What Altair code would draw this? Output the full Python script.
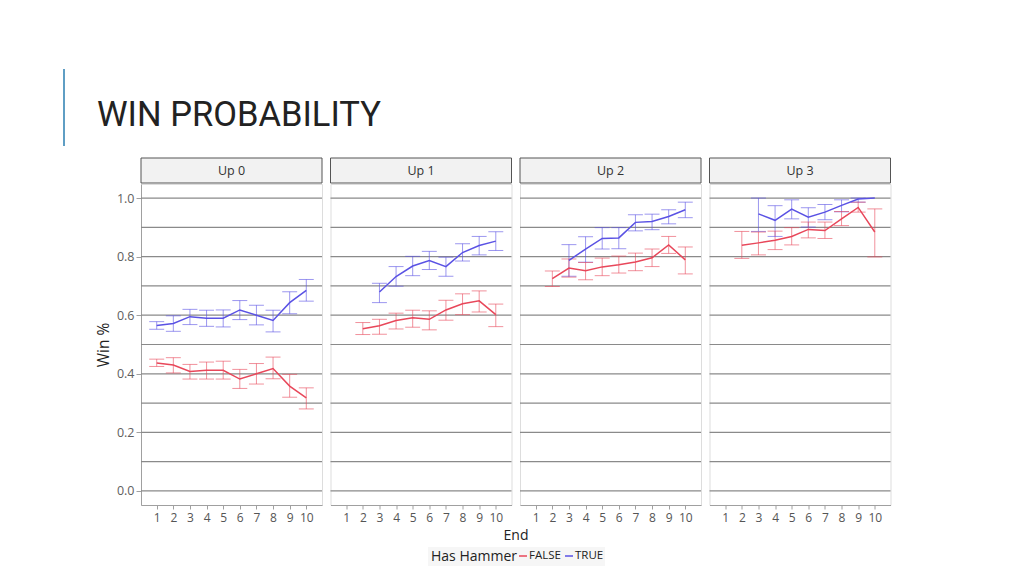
import altair as alt
import pandas as pd

# ---------------- data ----------------
title_text = "WIN PROBABILITY"
panels = ["Up 0", "Up 1", "Up 2", "Up 3"]
hammer = ["FALSE", "TRUE"]
ends = [1, 2, 3, 4, 5, 6, 7, 8, 9, 10]
y_ticks = [0.0, 0.2, 0.4, 0.6, 0.8, 1.0]
grid_vals = [0.0, 0.1, 0.2, 0.3, 0.4, 0.5, 0.6, 0.7, 0.8, 0.9, 1.0]
N = None

up0_true_mean = [0.565, 0.572, 0.595, 0.590, 0.590, 0.618, 0.600, 0.582, 0.643, 0.685]
up0_true_lo   = [0.552, 0.545, 0.568, 0.562, 0.560, 0.585, 0.567, 0.543, 0.605, 0.648]
up0_true_hi   = [0.578, 0.598, 0.620, 0.617, 0.618, 0.650, 0.634, 0.617, 0.680, 0.722]
up0_false_mean = [0.437, 0.430, 0.408, 0.412, 0.412, 0.382, 0.400, 0.418, 0.358, 0.318]
up0_false_lo   = [0.425, 0.403, 0.382, 0.382, 0.382, 0.350, 0.365, 0.383, 0.320, 0.280]
up0_false_hi   = [0.450, 0.455, 0.432, 0.440, 0.443, 0.415, 0.435, 0.457, 0.398, 0.352]

up1_true_mean = [N, N, 0.679, 0.732, 0.768, 0.787, 0.766, 0.814, 0.838, 0.853]
up1_true_lo   = [N, N, 0.643, 0.699, 0.735, 0.756, 0.733, 0.785, 0.806, 0.821]
up1_true_hi   = [N, N, 0.709, 0.766, 0.801, 0.818, 0.798, 0.844, 0.869, 0.885]
up1_false_mean = [N, 0.554, 0.564, 0.582, 0.591, 0.586, 0.618, 0.639, 0.649, 0.602]
up1_false_lo   = [N, 0.534, 0.535, 0.553, 0.559, 0.550, 0.583, 0.602, 0.611, 0.561]
up1_false_hi   = [N, 0.575, 0.586, 0.607, 0.617, 0.615, 0.651, 0.673, 0.683, 0.638]

up2_true_mean = [N, N, 0.787, 0.826, 0.862, 0.864, 0.917, 0.920, 0.937, 0.960]
up2_true_lo   = [N, N, 0.733, 0.781, 0.826, 0.827, 0.888, 0.892, 0.912, 0.933]
up2_true_hi   = [N, N, 0.841, 0.868, 0.899, 0.899, 0.943, 0.945, 0.960, 0.986]
up2_false_mean = [N, 0.725, 0.761, 0.752, 0.765, 0.772, 0.782, 0.796, 0.840, 0.789]
up2_false_lo   = [N, 0.698, 0.730, 0.721, 0.735, 0.744, 0.752, 0.766, 0.811, 0.741]
up2_false_hi   = [N, 0.751, 0.792, 0.780, 0.795, 0.802, 0.812, 0.826, 0.869, 0.833]

up3_true_mean = [N, N, 0.946, 0.924, 0.962, 0.935, 0.952, 0.975, 0.997, 1.000]
up3_true_lo   = [N, N, 0.886, 0.869, 0.929, 0.901, 0.926, 0.953, 0.986, N]
up3_true_hi   = [N, N, 1.000, 0.974, 0.994, 0.967, 0.978, 0.994, 1.000, N]
up3_false_mean = [N, 0.839, 0.847, 0.856, 0.869, 0.893, 0.889, 0.929, 0.968, 0.884]
up3_false_lo   = [N, 0.794, 0.806, 0.824, 0.840, 0.864, 0.862, 0.906, 0.952, 0.799]
up3_false_hi   = [N, 0.886, 0.884, 0.887, 0.899, 0.918, 0.918, 0.954, 0.986, 0.963]

series = {
    ("Up 0", "TRUE"): (up0_true_mean, up0_true_lo, up0_true_hi),
    ("Up 0", "FALSE"): (up0_false_mean, up0_false_lo, up0_false_hi),
    ("Up 1", "TRUE"): (up1_true_mean, up1_true_lo, up1_true_hi),
    ("Up 1", "FALSE"): (up1_false_mean, up1_false_lo, up1_false_hi),
    ("Up 2", "TRUE"): (up2_true_mean, up2_true_lo, up2_true_hi),
    ("Up 2", "FALSE"): (up2_false_mean, up2_false_lo, up2_false_hi),
    ("Up 3", "TRUE"): (up3_true_mean, up3_true_lo, up3_true_hi),
    ("Up 3", "FALSE"): (up3_false_mean, up3_false_lo, up3_false_hi),
}

rows = []
for (p, h), (m, lo, hi) in series.items():
    for e, mv, lv, hv in zip(ends, m, lo, hi):
        rows.append({"panel": p, "hammer": h, "end": e, "mean": mv, "lo": lv, "hi": hv})
df = pd.DataFrame(rows)

# ---------------- styling ----------------
FONT = "Open Sans"
TITLE_FONT = "Roboto"
RED = "#e8475a"
BLUE = "#5a52e4"
W, H = 181, 321

xscale = alt.Scale(domain=[0.055, 10.945], nice=False, zero=False)
yscale = alt.Scale(domain=[-0.048, 1.048], nice=False, zero=False)
cscale = alt.Scale(domain=hammer, range=[RED, BLUE])

x_axis = alt.Axis(values=ends, title=None, grid=False, domainColor="#a0a0a0",
                  tickColor="#a0a0a0", tickSize=4, labelColor="#555555",
                  labelFontSize=12, labelPadding=3, labelFont=FONT, labelFlush=False)
y_axis0 = alt.Axis(values=y_ticks, format=".1f", title="Win %", grid=False,
                   domainColor="#a0a0a0", tickColor="#a0a0a0", tickSize=5,
                   labelColor="#606060", labelFontSize=12.5, labelPadding=2,
                   labelFont=FONT, titleFont=FONT, titleFontSize=15.5,
                   titleFontWeight="normal", titleColor="#222222", titlePadding=5)


def panel(p, first):
    yax = y_axis0 if first else None
    data = df[df["panel"] == p]
    base = alt.Chart(data)

    strip = alt.Chart(pd.DataFrame({"label": [p]}))
    strip_rect = strip.mark_rect(fill="#f2f2f2", stroke="#555555", strokeWidth=1).encode(
        x=alt.value(0), x2=alt.value(W), y=alt.value(-26), y2=alt.value(-1))
    strip_text = strip.mark_text(font=FONT, fontSize=12.5, color="#333333",
                                 baseline="middle").encode(
        x=alt.value(W / 2), y=alt.value(-13.5), text="label:N")

    grid = alt.Chart(pd.DataFrame({"g": grid_vals})).mark_rule(
        color="#8a8a8a", strokeWidth=1.2).encode(
        y=alt.Y("g:Q", scale=yscale, axis=yax))

    vbar = base.mark_rule(strokeWidth=1, opacity=0.6).encode(
        x=alt.X("end:Q", scale=xscale, axis=x_axis),
        y=alt.Y("lo:Q", scale=yscale, axis=yax),
        y2="hi:Q",
        color=alt.Color("hammer:N", scale=cscale, legend=None))
    caps = base.transform_calculate(
        xl="datum.end - 0.45", xr="datum.end + 0.45")
    cap_lo = caps.mark_rule(strokeWidth=1, opacity=0.6).encode(
        x=alt.X("xl:Q", scale=xscale, axis=x_axis), x2="xr:Q",
        y=alt.Y("lo:Q", scale=yscale, axis=yax),
        color=alt.Color("hammer:N", scale=cscale, legend=None))
    cap_hi = caps.mark_rule(strokeWidth=1, opacity=0.6).encode(
        x=alt.X("xl:Q", scale=xscale, axis=x_axis), x2="xr:Q",
        y=alt.Y("hi:Q", scale=yscale, axis=yax),
        color=alt.Color("hammer:N", scale=cscale, legend=None))
    line = base.mark_line(strokeWidth=1.5).encode(
        x=alt.X("end:Q", scale=xscale, axis=x_axis),
        y=alt.Y("mean:Q", scale=yscale, axis=yax),
        color=alt.Color("hammer:N", scale=cscale, legend=None),
        order="end:Q")

    layers = [strip_rect, strip_text, grid, vbar, cap_lo, cap_hi, line]

    if first:
        t = alt.Chart(pd.DataFrame({"t": [title_text]}))
        layers.append(t.mark_text(font=TITLE_FONT, fontSize=34.5, color="#222222",
                                  align="left", baseline="alphabetic").encode(
            x=alt.value(-44), y=alt.value(-58), text="t:N"))
        layers.append(t.mark_rule(color="#5f9ec4", strokeWidth=2).encode(
            x=alt.value(-77), y=alt.value(-115), y2=alt.value(-38)))
        # x title
        e = alt.Chart(pd.DataFrame({"e": ["End"]}))
        layers.append(e.mark_text(font=FONT, fontSize=14, color="#222222",
                                  baseline="middle").encode(
            x=alt.value(375), y=alt.value(352), text="e:N"))
        # legend
        lg = alt.Chart(pd.DataFrame({"h": ["Has Hammer"]}))
        layers.append(lg.mark_rect(fill="#f6f6f6").encode(
            x=alt.value(287), x2=alt.value(464), y=alt.value(363), y2=alt.value(382)))
        layers.append(lg.mark_text(font=FONT, fontSize=14, color="#222222",
                                   align="right", baseline="middle").encode(
            x=alt.value(376), y=alt.value(373), text="h:N"))
        for lab, col, x0 in [(hammer[0], RED, 378), (hammer[1], BLUE, 424)]:
            d = alt.Chart(pd.DataFrame({"l": [lab]}))
            layers.append(d.mark_rule(color=col, strokeWidth=1.5).encode(
                x=alt.value(x0), x2=alt.value(x0 + 8), y=alt.value(372)))
            layers.append(d.mark_text(font=FONT, fontSize=11.5, color="#222222",
                                      align="left", baseline="middle").encode(
                x=alt.value(x0 + 10), y=alt.value(372), text="l:N"))

    return alt.layer(*layers).properties(width=W, height=H)


chart = alt.hconcat(*[panel(p, i == 0) for i, p in enumerate(panels)],
                    spacing=8.5, bounds="flush").properties(
    padding={"left": 54, "top": 59, "right": 5, "bottom": 5}
).configure_view(stroke=None, fill="#f5f5f5").configure(background="white")

chart.save("out.html", embed_options={"renderer": "svg", "actions": False})
